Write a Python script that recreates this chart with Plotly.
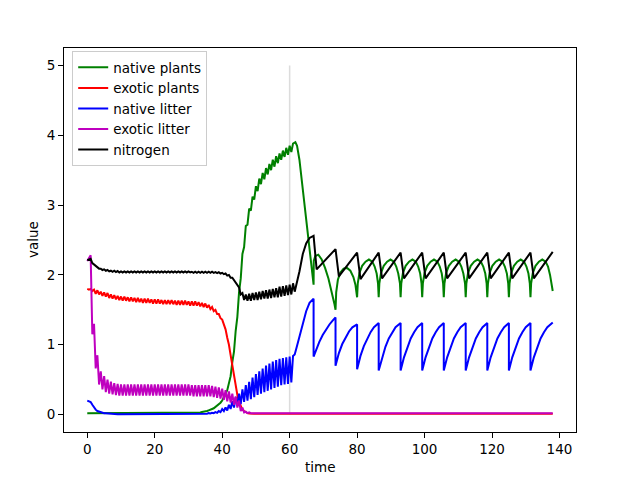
import plotly.graph_objects as go

# ---------------- data ----------------
# early phase: yearly pulses, value at whole years (peak) and half years (trough)
years = list(range(62))
half_years = [k + 0.5 for k in range(61)]

green_peak = [0.02, 0.02, 0.02, 0.02, 0.02, 0.02, 0.02, 0.02, 0.02, 0.02,
              0.02, 0.02, 0.02, 0.02, 0.02, 0.02, 0.02, 0.02, 0.02, 0.02,
              0.02, 0.02, 0.02, 0.02, 0.02, 0.02, 0.02, 0.02, 0.02, 0.02,
              0.02, 0.02, 0.025, 0.03, 0.035, 0.045, 0.06, 0.08, 0.11, 0.15,
              0.2, 0.3, 0.45, 0.75, 1.2, 1.75, 2.3, 2.7, 2.95, 3.12,
              3.27, 3.38, 3.46, 3.53, 3.59, 3.65, 3.7, 3.74, 3.78, 3.82,
              3.85, 3.88]
green_trough = [0.02, 0.02, 0.02, 0.02, 0.02, 0.02, 0.02, 0.02, 0.02, 0.02,
                0.02, 0.02, 0.02, 0.02, 0.02, 0.02, 0.02, 0.02, 0.02, 0.02,
                0.02, 0.02, 0.02, 0.02, 0.02, 0.02, 0.02, 0.02, 0.02, 0.02,
                0.02, 0.02, 0.025, 0.03, 0.038, 0.05, 0.065, 0.09, 0.12, 0.17,
                0.24, 0.35, 0.55, 0.9, 1.4, 1.95, 2.4, 2.72, 2.92, 3.08,
                3.2, 3.3, 3.37, 3.44, 3.5, 3.55, 3.6, 3.65, 3.69, 3.72,
                3.76]

red_peak = [1.8, 1.8, 1.79, 1.78, 1.76, 1.75, 1.74, 1.72, 1.71, 1.7,
            1.69, 1.69, 1.68, 1.68, 1.67, 1.67, 1.66, 1.66, 1.66, 1.65,
            1.65, 1.65, 1.64, 1.64, 1.64, 1.64, 1.63, 1.63, 1.63, 1.63,
            1.62, 1.62, 1.62, 1.61, 1.6, 1.59, 1.57, 1.54, 1.5, 1.44,
            1.36, 1.22, 1.0, 0.7, 0.4, 0.18, 0.07, 0.03, 0.015, 0.01,
            0.01, 0.01, 0.01, 0.01, 0.01, 0.01, 0.01, 0.01, 0.01, 0.01,
            0.01, 0.01]
red_trough = [1.79, 1.77, 1.73, 1.72, 1.7, 1.69, 1.67, 1.66, 1.65, 1.64,
              1.63, 1.63, 1.62, 1.62, 1.61, 1.61, 1.6, 1.6, 1.6, 1.59,
              1.59, 1.59, 1.58, 1.58, 1.58, 1.58, 1.57, 1.57, 1.57, 1.57,
              1.56, 1.56, 1.56, 1.55, 1.54, 1.53, 1.51, 1.48, 1.44, 1.38,
              1.28, 1.1, 0.85, 0.55, 0.28, 0.12, 0.05, 0.02, 0.01, 0.01,
              0.01, 0.01, 0.01, 0.01, 0.01, 0.01, 0.01, 0.01, 0.01, 0.01,
              0.01]

blue_peak = [0.2, 0.18, 0.1, 0.05, 0.03, 0.02, 0.015, 0.01, 0.005, 0.005,
             0.005, 0.005, 0.005, 0.005, 0.005, 0.005, 0.005, 0.005, 0.005, 0.005,
             0.005, 0.005, 0.005, 0.005, 0.005, 0.005, 0.005, 0.005, 0.005, 0.005,
             0.005, 0.006, 0.008, 0.01, 0.012, 0.015, 0.02, 0.025, 0.035, 0.05,
             0.08, 0.1, 0.14, 0.19, 0.25, 0.3, 0.36, 0.42, 0.47, 0.53,
             0.58, 0.62, 0.66, 0.7, 0.73, 0.76, 0.78, 0.8, 0.81, 0.82,
             0.83, 0.84]
blue_trough = [0.19, 0.14, 0.07, 0.04, 0.025, 0.018, 0.012, 0.008, 0.005, 0.005,
               0.005, 0.005, 0.005, 0.005, 0.005, 0.005, 0.005, 0.005, 0.005, 0.005,
               0.005, 0.005, 0.005, 0.005, 0.005, 0.005, 0.005, 0.005, 0.005, 0.005,
               0.005, 0.005, 0.006, 0.008, 0.01, 0.012, 0.015, 0.02, 0.025, 0.035,
               0.05, 0.06, 0.08, 0.1, 0.13, 0.15, 0.18, 0.2, 0.22, 0.25,
               0.28, 0.3, 0.32, 0.34, 0.36, 0.38, 0.4, 0.42, 0.43, 0.44,
               0.46]

mag_peak = [2.2, 2.28, 1.3, 0.85, 0.62, 0.55, 0.5, 0.47, 0.45, 0.44,
            0.43, 0.43, 0.43, 0.43, 0.43, 0.43, 0.43, 0.43, 0.43, 0.43,
            0.43, 0.43, 0.43, 0.43, 0.43, 0.43, 0.43, 0.43, 0.43, 0.43,
            0.43, 0.42, 0.42, 0.42, 0.42, 0.42, 0.42, 0.41, 0.4, 0.39,
            0.37, 0.35, 0.33, 0.3, 0.26, 0.2, 0.1, 0.04, 0.03, 0.02,
            0.02, 0.02, 0.02, 0.02, 0.02, 0.02, 0.02, 0.02, 0.02, 0.02,
            0.02, 0.02]
mag_trough = [2.25, 1.15, 0.66, 0.43, 0.36, 0.32, 0.3, 0.29, 0.28, 0.27,
              0.27, 0.27, 0.27, 0.27, 0.27, 0.27, 0.27, 0.27, 0.27, 0.27,
              0.27, 0.27, 0.27, 0.27, 0.27, 0.27, 0.27, 0.27, 0.27, 0.27,
              0.27, 0.26, 0.26, 0.26, 0.26, 0.26, 0.26, 0.25, 0.24, 0.23,
              0.21, 0.19, 0.17, 0.14, 0.1, 0.05, 0.03, 0.02, 0.02, 0.02,
              0.02, 0.02, 0.02, 0.02, 0.02, 0.02, 0.02, 0.02, 0.02, 0.02,
              0.02]

black_peak = [2.21, 2.23, 2.15, 2.11, 2.09, 2.08, 2.07, 2.06, 2.06, 2.055,
              2.05, 2.05, 2.05, 2.05, 2.05, 2.05, 2.05, 2.05, 2.05, 2.05,
              2.05, 2.05, 2.05, 2.05, 2.05, 2.05, 2.05, 2.05, 2.05, 2.05,
              2.05, 2.045, 2.045, 2.045, 2.045, 2.045, 2.045, 2.045, 2.04, 2.04,
              2.03, 2.02, 2.0, 1.96, 1.9, 1.82, 1.74, 1.72, 1.73, 1.74,
              1.75, 1.76, 1.77, 1.78, 1.79, 1.8, 1.81, 1.83, 1.84, 1.85,
              1.86, 1.88]
black_trough = [2.22, 2.17, 2.12, 2.09, 2.07, 2.06, 2.05, 2.045, 2.04, 2.035,
                2.035, 2.035, 2.035, 2.035, 2.035, 2.035, 2.035, 2.035, 2.035, 2.035,
                2.035, 2.035, 2.035, 2.035, 2.035, 2.035, 2.035, 2.035, 2.035, 2.035,
                2.035, 2.03, 2.03, 2.03, 2.03, 2.03, 2.03, 2.03, 2.025, 2.02,
                2.01, 1.99, 1.96, 1.92, 1.85, 1.72, 1.64, 1.63, 1.63, 1.64,
                1.64, 1.65, 1.66, 1.66, 1.67, 1.68, 1.68, 1.69, 1.7, 1.71,
                1.72]

# late phase: explicit vertices (time, value)
green_late_t = [61.7, 62.2, 62.9, 67.1, 67.15, 67.6, 68.5, 69.5, 70.5, 71.5, 72.5, 73.3, 73.6,
                73.8, 74.3, 75.0, 76.0, 77.0, 78.0, 78.9, 79.5, 79.85,
                80.0, 80.2, 80.7, 81.5, 82.5, 83.5, 84.5, 85.2, 85.8, 86.2,
                86.4, 86.6, 87.1, 87.9, 88.9, 89.9, 90.9, 91.6, 92.2, 92.7,
                92.9, 93.1, 93.6, 94.4, 95.4, 96.4, 97.4, 98.1, 98.7, 99.1,
                99.3, 99.5, 100.0, 100.8, 101.8, 102.8, 103.8, 104.5, 105.1, 105.5,
                105.7, 105.9, 106.4, 107.2, 108.2, 109.2, 110.2, 110.9, 111.5, 112.0,
                112.2, 112.4, 112.9, 113.7, 114.7, 115.7, 116.7, 117.4, 118.0, 118.4,
                118.6, 118.8, 119.3, 120.1, 121.1, 122.1, 123.1, 123.8, 124.4, 124.8,
                125.0, 125.2, 125.7, 126.5, 127.5, 128.5, 129.5, 130.2, 130.8, 131.2,
                131.4, 131.6, 132.1, 132.9, 133.9, 134.9, 135.9, 136.6, 137.2, 138.0]
green_late_v = [3.9, 3.85, 3.65, 1.86, 2.2, 2.27, 2.29, 2.22, 2.1, 1.95, 1.76, 1.58, 1.5,
                1.75, 1.93, 2.03, 2.09, 2.1, 2.06, 1.97, 1.86, 1.75,
                1.68, 1.88, 2.03, 2.13, 2.19, 2.22, 2.19, 2.12, 2.02, 1.88,
                1.68, 1.88, 2.03, 2.13, 2.19, 2.22, 2.19, 2.12, 2.02, 1.88,
                1.68, 1.88, 2.03, 2.13, 2.19, 2.22, 2.19, 2.12, 2.02, 1.88,
                1.68, 1.88, 2.03, 2.13, 2.19, 2.22, 2.19, 2.12, 2.02, 1.88,
                1.68, 1.88, 2.03, 2.13, 2.19, 2.22, 2.19, 2.12, 2.02, 1.88,
                1.68, 1.88, 2.03, 2.13, 2.19, 2.22, 2.19, 2.12, 2.02, 1.88,
                1.68, 1.88, 2.03, 2.13, 2.19, 2.22, 2.19, 2.12, 2.02, 1.88,
                1.68, 1.88, 2.03, 2.13, 2.19, 2.22, 2.19, 2.12, 2.02, 1.88,
                1.68, 1.88, 2.03, 2.13, 2.19, 2.22, 2.19, 2.12, 2.0, 1.77]

blue_late_t = [61.5, 62.0, 62.9, 63.9, 64.9, 65.9, 67.1,
               67.1, 67.8, 68.8, 69.8, 70.8, 71.8, 72.8, 73.6,
               73.6, 74.6, 75.6, 76.6, 77.6, 78.6, 80.0,
               80.0, 81.0, 82.0, 83.0, 84.0, 85.0, 86.4,
               86.4, 87.4, 88.4, 89.4, 90.4, 91.4, 92.9,
               92.9, 93.9, 94.9, 95.9, 96.9, 97.9, 99.3,
               99.3, 100.3, 101.3, 102.3, 103.3, 104.3, 105.7,
               105.7, 106.7, 107.7, 108.7, 109.7, 110.7, 112.2,
               112.2, 113.2, 114.2, 115.2, 116.2, 117.2, 118.6,
               118.6, 119.6, 120.6, 121.6, 122.6, 123.6, 125.0,
               125.0, 126.0, 127.0, 128.0, 129.0, 130.0, 131.4,
               131.4, 132.4, 133.4, 134.4, 135.4, 136.4, 138.0]
blue_late_v = [0.86, 0.95, 1.12, 1.32, 1.48, 1.6, 1.66,
               0.83, 0.93, 1.04, 1.14, 1.22, 1.29, 1.35, 1.39,
               0.7, 0.88, 1.01, 1.11, 1.19, 1.25, 1.29,
               0.65, 0.84, 0.98, 1.09, 1.18, 1.25, 1.31,
               0.63, 0.82, 0.97, 1.09, 1.18, 1.25, 1.31,
               0.63, 0.82, 0.97, 1.09, 1.18, 1.25, 1.31,
               0.63, 0.82, 0.97, 1.09, 1.18, 1.25, 1.31,
               0.63, 0.82, 0.97, 1.09, 1.18, 1.25, 1.31,
               0.63, 0.82, 0.97, 1.09, 1.18, 1.25, 1.31,
               0.63, 0.82, 0.97, 1.09, 1.18, 1.25, 1.31,
               0.63, 0.82, 0.97, 1.09, 1.18, 1.25, 1.31,
               0.63, 0.82, 0.97, 1.09, 1.18, 1.25, 1.32]

black_late_t = [61.5, 62.0, 62.9, 63.9, 64.9, 65.9, 67.1, 68.0, 73.6, 74.6,
                80.0, 81.0, 86.4, 87.4, 92.9, 93.9, 99.3, 100.3, 105.7, 106.7,
                112.2, 113.2, 118.6, 119.6, 125.0, 126.0, 131.4, 132.4, 138.0]
black_late_v = [1.76, 1.86, 2.05, 2.3, 2.45, 2.53, 2.56, 2.08, 2.37, 1.98,
                2.32, 1.94, 2.32, 1.95, 2.32, 1.95, 2.32, 1.95, 2.32, 1.95,
                2.32, 1.95, 2.32, 1.95, 2.32, 1.95, 2.32, 1.95, 2.33]

red_late_t = [61.5, 138.0]
red_late_v = [0.01, 0.01]
mag_late_t = [61.5, 138.0]
mag_late_v = [0.02, 0.02]

marker_t = [60, 60]
marker_v = [0, 5]

series_names = ["native plants", "exotic plants", "native litter", "exotic litter", "nitrogen"]
series_colors = ["#008000", "#ff0000", "#0000ff", "#bf00bf", "#000000"]
x_ticks = [0, 20, 40, 60, 80, 100, 120, 140]
y_ticks = [0, 1, 2, 3, 4, 5]


def build(peak, trough, late_t, late_v):
    xs, ys = [], []
    for k in range(len(trough)):
        xs += [years[k], half_years[k]]
        ys += [peak[k], trough[k]]
    xs.append(years[len(trough)])
    ys.append(peak[len(trough)])
    return xs + late_t, ys + late_v


series = [
    build(green_peak, green_trough, green_late_t, green_late_v),
    build(red_peak, red_trough, red_late_t, red_late_v),
    build(blue_peak, blue_trough, blue_late_t, blue_late_v),
    build(mag_peak, mag_trough, mag_late_t, mag_late_v),
    build(black_peak, black_trough, black_late_t, black_late_v),
]

FONT = "DejaVu Sans"
fig = go.Figure()
fig.add_trace(go.Scatter(x=marker_t, y=marker_v, mode="lines",
                         line=dict(color="#dcdcdc", width=1.5), showlegend=False))
for (xs, ys), name, col in zip(series, series_names, series_colors):
    fig.add_trace(go.Scatter(x=xs, y=ys, mode="lines", name=name,
                             line=dict(color=col, width=2)))

axis_common = dict(showline=True, linecolor="black", linewidth=1, mirror=True,
                   ticks="outside", ticklen=5, tickwidth=1, tickcolor="black",
                   showgrid=False, zeroline=False, automargin=False,
                   tickfont=dict(family=FONT, size=13.5, color="black"))
fig.update_xaxes(range=[-6.9, 144.9], tickvals=x_ticks, **axis_common)
fig.update_yaxes(range=[-0.25, 5.25], tickvals=y_ticks, **axis_common)
fig.update_layout(
    width=640, height=480,
    margin=dict(l=64, r=64, t=48, b=48),
    paper_bgcolor="white", plot_bgcolor="white",
    font=dict(family=FONT, size=13.5, color="black"),
    legend=dict(x=0.016, y=0.992, xanchor="left", yanchor="top",
                bgcolor="rgba(255,255,255,0.8)", bordercolor="#cccccc", borderwidth=1,
                font=dict(family=FONT, size=13.5, color="black"),
                tracegroupgap=0, itemwidth=30),
    showlegend=True,
    annotations=[
        dict(text="time", xref="paper", yref="paper", x=0.5, y=-0.091,
             xanchor="center", yanchor="middle", showarrow=False,
             font=dict(family=FONT, size=13.5, color="black")),
        dict(text="value", xref="paper", yref="paper", x=-0.0605, y=0.5,
             xanchor="center", yanchor="middle", showarrow=False, textangle=-90,
             font=dict(family=FONT, size=13.5, color="black")),
    ],
)
fig.write_html("out.html")
